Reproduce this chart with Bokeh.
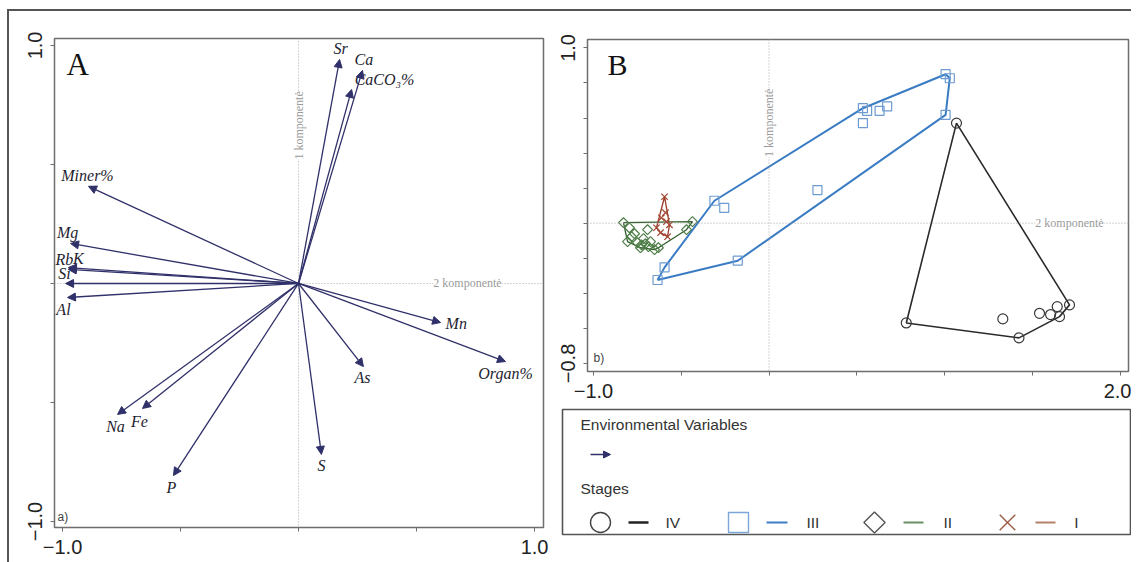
import math
from bokeh.plotting import figure
from bokeh.models import Range1d, FixedTicker, Arrow, NormalHead, ColumnDataSource, Span, Label
from bokeh.layouts import row, column
from bokeh.embed import file_html
from bokeh.resources import INLINE
from bokeh.core.properties import value, field

# ---------------- Panel A: environmental variables (arrow tips) ----------------
var_names = ["Sr", "Ca", "CaCO\u2083%", "Miner%", "Mg", "Rb", "K", "Si", "Al",
             "Mn", "Organ%", "As", "S", "Na", "Fe", "P"]
var_comp2 = [0.174, 0.271, 0.225, -0.890, -0.966, -0.975, -0.975, -0.987, -0.979,
             0.602, 0.877, 0.275, 0.097, -0.767, -0.661, -0.530]
var_comp1 = [0.941, 0.895, 0.815, 0.408, 0.168, 0.067, 0.059, 0.000, -0.059,
             -0.164, -0.328, -0.349, -0.718, -0.550, -0.525, -0.807]

# ---------------- Panel B: samples by stage ----------------
stage_labels = ["IV", "III", "II", "I"]
iv_x = [1.068, 0.782, 1.424, 1.332, 1.541, 1.604, 1.642, 1.655, 1.712]
iv_y = [0.571, -0.569, -0.654, -0.546, -0.514, -0.521, -0.476, -0.533, -0.466]
iii_x = [1.006, 1.030, 1.006, 0.535, 0.559, 0.630, 0.673, 0.535, 0.276, -0.311,
         -0.255, -0.178, -0.595, -0.635]
iii_y = [0.850, 0.827, 0.618, 0.656, 0.641, 0.641, 0.666, 0.571, 0.189, 0.128,
         0.087, -0.214, -0.252, -0.324]
ii_x = [-0.829, -0.436, -0.470, -0.795, -0.766, -0.692, -0.806, -0.749, -0.715,
        -0.732, -0.652, -0.687, -0.675, -0.630, -0.783, -0.704, -0.726]
ii_y = [0.003, 0.009, -0.037, -0.026, -0.060, -0.037, -0.105, -0.111, -0.088,
        -0.140, -0.151, -0.134, -0.105, -0.140, -0.077, -0.117, -0.123]
i_x = [-0.595, -0.590, -0.613, -0.584, -0.641, -0.618, -0.578, -0.567]
i_y = [0.151, 0.060, 0.031, 0.009, -0.026, -0.054, -0.077, -0.009]

# ---------------- ticks ----------------
a_ticks = [-1.0, -0.5, 0.0, 0.5, 1.0]
a_tick_labels = {-1.0: "\u22121.0", 1.0: "1.0"}
b_xticks = [-1.0, -0.5, 0.0, 0.5, 1.0, 1.5, 2.0]
b_xtick_labels = {-1.0: "\u22121.0", 2.0: "2.0"}
b_yticks = [-0.8, -0.6, -0.4, -0.2, 0.0, 0.2, 0.4, 0.6, 0.8, 1.0]
b_ytick_labels = {-0.8: "\u22120.8", 1.0: "1.0"}

# ---------------- styles (label placement in screen px, +dy = down) ----------------
lab_dx = [1, -8, 3, -1, -3, -13, 10, -1, -4, 5, 0, -1, 0, -2, -3, -2]
lab_dy = [-11, -11, -10, -11, -11, -8, -11, -10, 12, 1, 12, 11, 11, 12, 13, 12]
lab_align = ["center", "left", "left", "center", "center", "left", "center", "center",
             "center", "left", "center", "center", "center", "center", "center", "center"]

SANS = "Liberation Sans"
SERIF = "Liberation Serif"
ARROW_COL = "#30306a"
FRAME_COL = "#6e6e6e"


def convex_hull(xs, ys):
    pts = sorted(set(zip(xs, ys)))
    def cross(o, a, b):
        return (a[0] - o[0]) * (b[1] - o[1]) - (a[1] - o[1]) * (b[0] - o[0])
    lower, upper = [], []
    for pt in pts:
        while len(lower) >= 2 and cross(lower[-2], lower[-1], pt) <= 0:
            lower.pop()
        lower.append(pt)
    for pt in reversed(pts):
        while len(upper) >= 2 and cross(upper[-2], upper[-1], pt) <= 0:
            upper.pop()
        upper.append(pt)
    h = lower[:-1] + upper[:-1]
    h.append(h[0])
    return [q[0] for q in h], [q[1] for q in h]


def make_panel(xr, yr, w, h, mbl, mbr, mbt, mbb, xticks, yticks, xlabels, ylabels):
    p = figure(width=w, height=h, x_range=Range1d(*xr), y_range=Range1d(*yr),
               output_backend="svg", toolbar_location=None,
               min_border_left=mbl, min_border_right=mbr,
               min_border_top=mbt, min_border_bottom=mbb)
    p.frame_align = False
    p.grid.visible = False
    p.outline_line_color = FRAME_COL
    p.outline_line_width = 1.5
    p.background_fill_color = "white"
    p.border_fill_color = "white"
    p.xaxis.ticker = FixedTicker(ticks=xticks)
    p.yaxis.ticker = FixedTicker(ticks=yticks)
    p.xaxis.major_label_overrides = {t: xlabels.get(t, "") for t in xticks}
    p.yaxis.major_label_overrides = {t: ylabels.get(t, "") for t in yticks}
    p.yaxis.major_label_orientation = "vertical"
    for ax in (p.xaxis[0], p.yaxis[0]):
        ax.axis_line_color = None
        ax.major_tick_line_color = FRAME_COL
        ax.major_tick_out = 4
        ax.major_tick_in = 0
        ax.minor_tick_line_color = None
        ax.major_label_standoff = 8
        ax.major_label_text_font = SANS
        ax.major_label_text_font_size = "20px"
        ax.major_label_text_color = "#222222"
    return p


def ref_lines(p, vx, vy, hx, hy):
    p.add_layout(Span(location=0, dimension="height", line_color="#a8a8a8",
                      line_dash="1 2", line_width=1))
    p.add_layout(Span(location=0, dimension="width", line_color="#a8a8a8",
                      line_dash="1 2", line_width=1))
    p.add_layout(Label(x=vx, y=vy, text="1 komponent\u0117", angle=math.pi / 2,
                       text_align="center", text_baseline="middle", text_font=SERIF,
                       text_font_size="12px", text_color="#9a9a9a",
                       background_fill_color="white"))
    p.add_layout(Label(x=hx, y=hy, text="2 komponent\u0117",
                       text_align="center", text_baseline="middle", text_font=SERIF,
                       text_font_size="12px", text_color="#9a9a9a",
                       background_fill_color="white"))


# ================= Panel A =================
a_xr = (-1.034, 1.038)
a_yr = (-1.025, 1.029)
pA = make_panel(a_xr, a_yr, 543, 551, 45, 9, 27, 35, a_ticks, a_ticks,
                a_tick_labels, a_tick_labels)
ref_lines(pA, 0.0, 0.664, 0.716, 0.0)

src_a = ColumnDataSource(dict(x0=[0.0] * len(var_names), y0=[0.0] * len(var_names),
                              x=var_comp2, y=var_comp1, name=var_names,
                              dx=lab_dx, dy=lab_dy, align=lab_align))
pA.add_layout(Arrow(end=NormalHead(size=8, fill_color=ARROW_COL, line_color=ARROW_COL,
                                   line_width=1),
                    source=src_a, x_start="x0", y_start="y0", x_end="x", y_end="y",
                    line_color=ARROW_COL, line_width=1.3))
pA.text(x="x", y="y", text="name", source=src_a, x_offset="dx", y_offset="dy",
        text_align=field("align"), text_baseline="middle",
        text_font=value(SERIF), text_font_style="italic", text_font_size="16px",
        text_color="#1e1e30")

pA.add_layout(Label(x=a_xr[0], y=a_yr[1], text="A", x_offset=12, y_offset=-26,
                    text_align="left", text_baseline="middle", text_font=SERIF,
                    text_font_size="31px", text_color="#111111"))
pA.add_layout(Label(x=a_xr[0], y=a_yr[0], text="a)", x_offset=3, y_offset=11,
                    text_align="left", text_baseline="middle", text_font=SANS,
                    text_font_size="12px", text_color="#444444"))

# ================= Panel B =================
b_xr = (-1.034, 2.048)
b_yr = (-0.846, 1.048)
pB = make_panel(b_xr, b_yr, 579, 397, 35, 3, 28, 37, b_xticks, b_yticks,
                b_xtick_labels, b_ytick_labels)
ref_lines(pB, 0.0, 0.573, 1.712, 0.0)

stages = [
    (iv_x, iv_y, "#2a2a2a", 1.6, "circle", 10, "#3a3a3a", 0),
    (iii_x, iii_y, "#3a7cc4", 2.0, "square", 9, "#6d9bd1", 0),
    (ii_x, ii_y, "#2f5e2a", 1.3, "square", 7, "#4d7d47", math.pi / 4),
    (i_x, i_y, "#9b3b2b", 1.3, "x", 9, "#a2452f", 0),
]
for xs, ys, lc, lw, mk, sz, mc, ang in stages:
    hx, hy = convex_hull(xs, ys)
    pB.line(hx, hy, line_color=lc, line_width=lw)
for xs, ys, lc, lw, mk, sz, mc, ang in stages:
    pB.scatter(xs, ys, marker=mk, size=sz, angle=ang, fill_color=None,
               line_color=mc, line_width=1.2)

pB.add_layout(Label(x=b_xr[0], y=b_yr[1], text="B", x_offset=20, y_offset=-25,
                    text_align="left", text_baseline="middle", text_font=SERIF,
                    text_font_size="30px", text_color="#111111"))
pB.add_layout(Label(x=b_xr[0], y=b_yr[0], text="b)", x_offset=6, y_offset=14,
                    text_align="left", text_baseline="middle", text_font=SANS,
                    text_font_size="12px", text_color="#444444"))

# ================= Legend box =================
pL = figure(width=579, height=146, x_range=Range1d(0, 568), y_range=Range1d(125, 0),
            output_backend="svg", toolbar_location=None,
            x_axis_location=None, y_axis_location=None,
            min_border_left=10, min_border_right=1, min_border_top=1, min_border_bottom=20)
pL.frame_align = False
pL.grid.visible = False
pL.outline_line_color = "#555555"
pL.outline_line_width = 1.6

def legend_text(x, y, t, align="left"):
    pL.add_layout(Label(x=x, y=y, text=t, text_align=align, text_baseline="middle",
                        text_font=SANS, text_font_size="15.5px", text_color="#333333"))

legend_text(18, 15, "Environmental Variables")
pL.add_layout(Arrow(end=NormalHead(size=7, fill_color=ARROW_COL, line_color=ARROW_COL),
                    x_start=28, y_start=45, x_end=48, y_end=45,
                    line_color=ARROW_COL, line_width=1.5))
legend_text(18, 79, "Stages")

row_y = 113
leg_items = [
    # marker x, marker, size, angle, marker colour, line x0, line x1, line colour, lw, text x, align
    (38, "circle", 20, 0, "#444444", 66, 86, "#222222", 2.5, 103, "left"),
    (176, "square", 20, 0, "#7da7d9", 204, 225, "#3d7fc8", 2.0, 244, "left"),
    (312, "square", 15, math.pi / 4, "#555555", 341, 361, "#6a8f66", 2.0, 381, "left"),
    (445, "x", 22, 0, "#9a5a44", 473, 493, "#b5806a", 2.0, 514, "center"),
]
for (mx, mk, sz, ang, mc, lx0, lx1, lcol, lw, tx, al), lab in zip(leg_items, stage_labels):
    pL.scatter([mx], [row_y], marker=mk, size=sz, angle=ang, fill_color=None,
               line_color=mc, line_width=1.4)
    pL.line([lx0, lx1], [row_y, row_y], line_color=lcol, line_width=lw)
    legend_text(tx, row_y, lab, al)

layout = row(pA, column(pB, pL),
             styles={"margin-left": "7px", "margin-top": "9px",
                     "border-top": "2px solid #555555", "border-left": "2px solid #555555"})

open("out.html", "w").write(file_html(layout, INLINE))
